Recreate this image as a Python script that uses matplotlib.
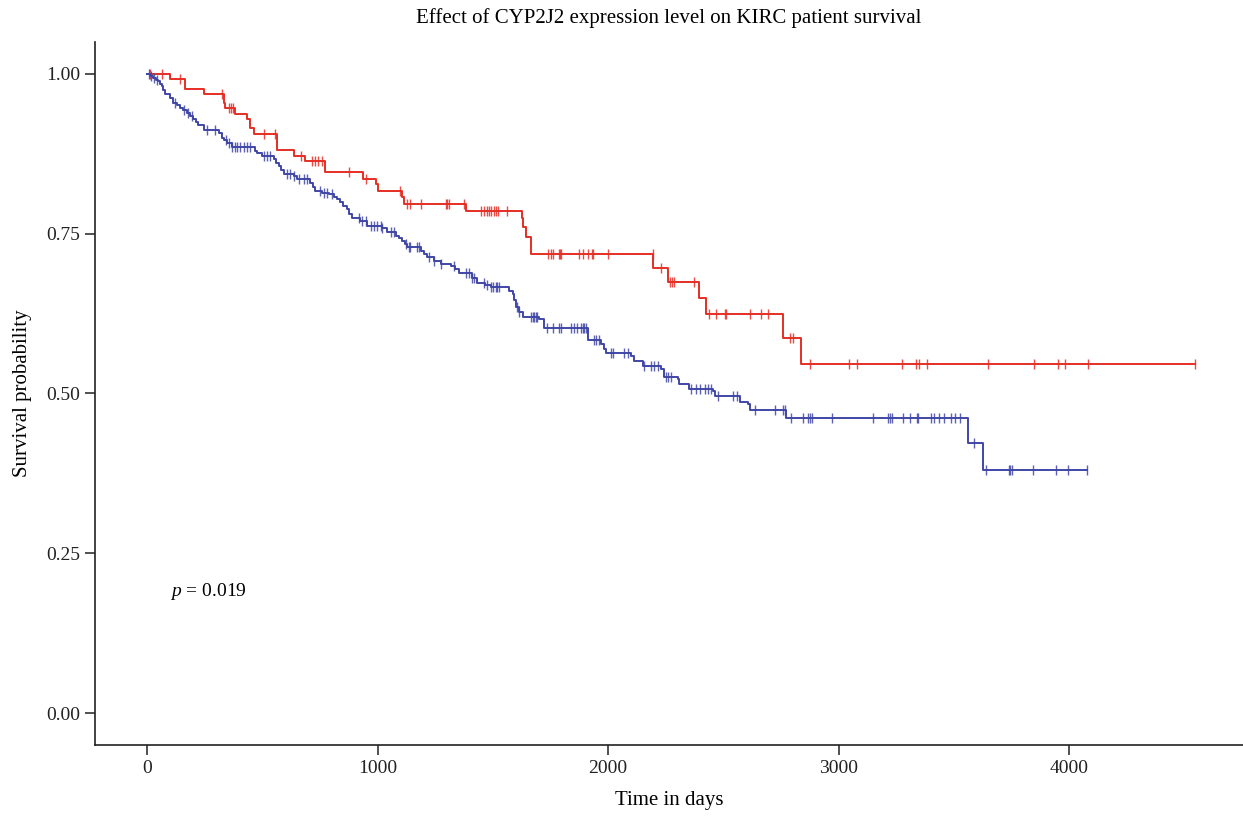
# Curvas de supervivencia Kaplan-Meier (CYP2J2, KIRC)

import numpy as np
import matplotlib.pyplot as plt

plt.rcParams['font.family'] = ['Liberation Serif', 'DejaVu Serif']
plt.rcParams['mathtext.fontset'] = 'custom'
plt.rcParams['mathtext.rm'] = 'Liberation Serif'
plt.rcParams['mathtext.it'] = 'Liberation Serif:italic'

# Datos: grupo rojo (caídas y censuras)
red_drop_days = [100, 165, 245, 332, 339, 380, 433, 445, 462, 465, 564, 639, 684, 771,
                 936, 994, 1001, 1104, 1114, 1383, 1625, 1629, 1643, 1665, 2197, 2262,
                 2393, 2427, 2760, 2836]
red_drop_surv = [0.992, 0.976, 0.969, 0.955, 0.946, 0.938, 0.929, 0.916, 0.913, 0.906,
                 0.881, 0.872, 0.863, 0.846, 0.836, 0.827, 0.817, 0.808, 0.797, 0.786,
                 0.775, 0.760, 0.745, 0.718, 0.696, 0.674, 0.649, 0.624, 0.587, 0.546]
red_censor_days = [13, 64, 143, 325, 357, 365, 374, 506, 557, 668, 716, 730, 743, 760, 877,
                   952, 1097, 1129, 1143, 1187, 1296, 1303, 1310, 1373, 1448, 1462, 1473,
                   1484, 1494, 1506, 1513, 1523, 1560, 1738, 1752, 1760, 1788, 1793, 1796,
                   1875, 1890, 1912, 1930, 1934, 1999, 2194, 2230, 2267, 2277, 2288, 2375,
                   2436, 2467, 2506, 2513, 2614, 2665, 2694, 2788, 2803, 2875, 3045, 3081,
                   3274, 3336, 3349, 3384, 3647, 3849, 3953, 3984, 4084, 4547]

# Datos: grupo azul (caídas y censuras)
blue_drop_days = [13, 27, 39, 49, 57, 64, 71, 78, 100, 114, 130, 143, 157, 173, 187, 201,
                  213, 223, 245, 310, 325, 335, 347, 368, 470, 477, 499, 549, 561, 571, 583,
                  593, 636, 651, 709, 722, 730, 761, 788, 809, 825, 839, 852, 868, 878, 890,
                  926, 955, 1020, 1042, 1078, 1091, 1107, 1117, 1129, 1187, 1200, 1216, 1243,
                  1274, 1317, 1335, 1353, 1412, 1433, 1465, 1491, 1571, 1586, 1593, 1600,
                  1613, 1629, 1701, 1723, 1912, 1970, 1983, 1991, 2100, 2114, 2151, 2230,
                  2242, 2303, 2310, 2353, 2455, 2462, 2571, 2607, 2614, 2774, 3564, 3625]
blue_drop_surv = [0.997, 0.994, 0.991, 0.989, 0.985, 0.981, 0.975, 0.968, 0.963, 0.955,
                  0.951, 0.947, 0.944, 0.939, 0.934, 0.929, 0.924, 0.920, 0.913, 0.908,
                  0.900, 0.896, 0.892, 0.885, 0.880, 0.876, 0.872, 0.867, 0.861, 0.856,
                  0.850, 0.843, 0.840, 0.835, 0.830, 0.823, 0.817, 0.814, 0.812, 0.808,
                  0.804, 0.799, 0.793, 0.788, 0.781, 0.774, 0.770, 0.762, 0.759, 0.752,
                  0.746, 0.743, 0.739, 0.734, 0.729, 0.723, 0.718, 0.713, 0.707, 0.702,
                  0.700, 0.695, 0.689, 0.681, 0.673, 0.670, 0.666, 0.661, 0.655, 0.647,
                  0.635, 0.628, 0.619, 0.616, 0.603, 0.584, 0.577, 0.570, 0.564, 0.559,
                  0.551, 0.543, 0.538, 0.526, 0.523, 0.515, 0.507, 0.504, 0.496, 0.486,
                  0.484, 0.474, 0.461, 0.422, 0.380]
blue_censor_days = [9, 17, 30, 43, 122, 161, 178, 196, 260, 296, 343, 357, 368, 383, 390,
                    404, 419, 433, 448, 506, 520, 535, 607, 622, 636, 658, 680, 694, 752,
                    767, 781, 803, 919, 933, 948, 970, 984, 999, 1013, 1020, 1057, 1071,
                    1122, 1136, 1143, 1173, 1180, 1223, 1245, 1274, 1332, 1383, 1397, 1412,
                    1419, 1462, 1477, 1491, 1499, 1513, 1520, 1527, 1607, 1614, 1665, 1673,
                    1680, 1687, 1694, 1735, 1760, 1786, 1796, 1839, 1853, 1865, 1883, 1890,
                    1897, 1904, 1940, 1948, 1962, 2013, 2020, 2071, 2086, 2158, 2187, 2201,
                    2216, 2252, 2260, 2274, 2361, 2383, 2397, 2419, 2433, 2448, 2477, 2542,
                    2561, 2636, 2723, 2760, 2767, 2796, 2847, 2868, 2875, 2883, 2970, 3151,
                    3213, 3223, 3230, 3281, 3310, 3339, 3346, 3400, 3416, 3438, 3458, 3488,
                    3506, 3527, 3590, 3639, 3738, 3745, 3752, 3843, 3945, 3997, 4077]

x_ticks = [0, 1000, 2000, 3000, 4000]
y_ticks = [0.00, 0.25, 0.50, 0.75, 1.00]
p_text = '$\\it{p}$ = 0.019'


def km_curve(drop_days, drop_surv, censor_days):
    """Construye la curva escalonada y la posición de las censuras."""
    days = np.array([0] + drop_days + [max(censor_days)], dtype=float)
    surv = np.array([1.0] + drop_surv + [drop_surv[-1]])
    idx = np.searchsorted(np.array(drop_days), censor_days, side='right')
    cens_surv = np.array([1.0] + drop_surv)[idx]
    return days, surv, np.array(censor_days), cens_surv


fig = plt.figure(figsize=(12.43, 8.18), dpi=100)
ax = fig.add_axes([0.0764, 0.0892, 0.9236, 0.8595])

for drops, survs, cens, color in [(red_drop_days, red_drop_surv, red_censor_days, '#E62E25'),
                                  (blue_drop_days, blue_drop_surv, blue_censor_days, '#4046A6')]:
    d, s, cd, cs = km_curve(drops, survs, cens)
    ax.step(d, s, where='post', color=color, linewidth=1.4)
    ax.plot(cd, cs, linestyle=' ', marker='|', markersize=7, markeredgewidth=1.0,
            color=color, alpha=0.85)

ax.text(100, 0.19, p_text, fontsize=14, va='center', ha='left')

# Ejes
ax.set_xlim(-226, 4755)
ax.set_ylim(-0.05, 1.05)
ax.set_xticks(x_ticks)
ax.set_yticks(y_ticks)
ax.set_yticklabels(['%.2f' % v for v in y_ticks])
ax.tick_params(direction='out', length=7, width=1.1, labelsize=14, colors='#222222')
for side in ['top', 'right']:
    ax.spines[side].set_visible(False)
for side in ['left', 'bottom']:
    ax.spines[side].set_linewidth(1.2)
    ax.spines[side].set_color('#222222')

ax.set_title('Effect of CYP2J2 expression level on KIRC patient survival', fontsize=15, pad=14)
ax.set_xlabel('Time in days', fontsize=15, labelpad=10)
ax.set_ylabel('Survival probability', fontsize=15, labelpad=10)

fig.savefig('out.png', dpi=100)
plt.close()
